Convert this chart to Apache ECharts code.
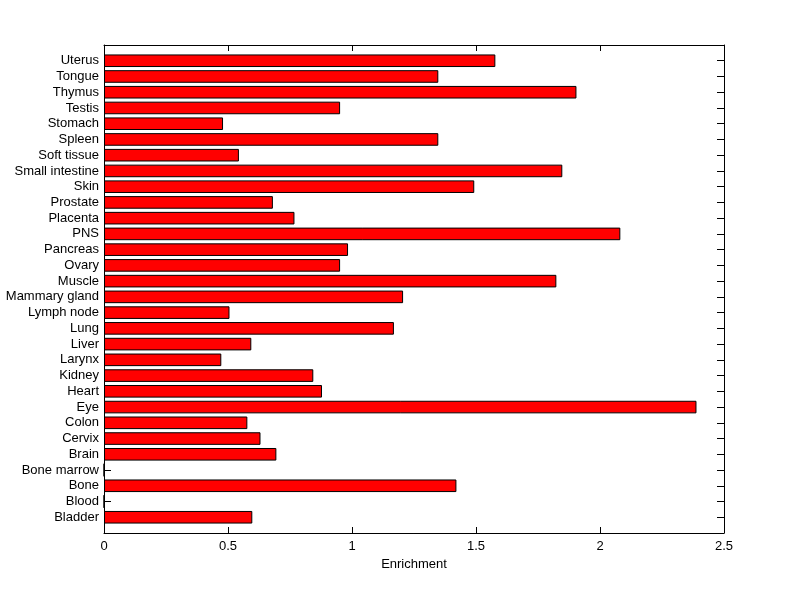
<!DOCTYPE html>
<html>
<head>
<meta charset="utf-8">
<script src="https://cdn.jsdelivr.net/npm/echarts@6/dist/echarts.min.js"></script>
<style>
html,body{margin:0;padding:0;background:#fff;}
#chart{width:800px;height:599px;}
</style>
</head>
<body>
<div id="chart"></div>
<script>
// Categories listed bottom-to-top (as drawn on the y axis)
var categories = ['Bladder','Blood','Bone','Bone marrow','Brain','Cervix','Colon','Eye','Heart','Kidney',
  'Larynx','Liver','Lung','Lymph node','Mammary gland','Muscle','Ovary','Pancreas','PNS','Placenta',
  'Prostate','Skin','Small intestine','Soft tissue','Spleen','Stomach','Testis','Thymus','Tongue','Uterus'];
var enrichment = [0.598,0,1.421,0,0.695,0.631,0.578,2.389,0.879,0.844,
  0.473,0.594,1.169,0.506,1.206,1.824,0.952,0.984,2.082,0.768,
  0.681,1.493,1.848,0.544,1.348,0.480,0.952,1.905,1.348,1.578];
var xTicks = [0,0.5,1,1.5,2,2.5];

// pad with empty slots so the axis spans 0..N+1 like the original
var axisCats = [''].concat(categories).concat(['']);
var axisVals = ['-'].concat(enrichment).concat(['-']);

var font = 'Liberation Sans, Arial, Helvetica, sans-serif';
var line = {show: true, onZero: false, lineStyle: {color: '#000', width: 1}};
var tickX = {show: true, inside: true, length: 6, lineStyle: {color: '#000'}};
var tickY = {show: true, inside: true, length: 7, interval: 0, lineStyle: {color: '#000'}};
var chart = echarts.init(document.getElementById('chart'));
chart.setOption({
  backgroundColor: '#ffffff',
  animation: false,
  grid: {left: 104, right: 76, top: 45, bottom: 66},
  xAxis: [{
    type: 'value', position: 'bottom', min: xTicks[0], max: xTicks[xTicks.length-1], interval: 0.5,
    name: 'Enrichment', nameLocation: 'middle', nameGap: 22,
    nameTextStyle: {color: '#000', fontSize: 13, fontFamily: font},
    axisLine: line,
    axisTick: tickX,
    axisLabel: {color: '#000', fontSize: 13, fontFamily: font, margin: 7},
    splitLine: {show: false}
  },{
    type: 'value', position: 'top', min: xTicks[0], max: xTicks[xTicks.length-1], interval: 0.5,
    axisLine: line,
    axisTick: tickX,
    axisLabel: {show: false},
    splitLine: {show: false}
  }],
  yAxis: [{
    type: 'category', position: 'left', data: axisCats, boundaryGap: false,
    axisLine: line,
    axisTick: tickY,
    axisLabel: {color: '#000', fontSize: 13, fontFamily: font, margin: 5, interval: 0},
    splitLine: {show: false}
  },{
    type: 'category', position: 'right', data: axisCats, boundaryGap: false,
    axisLine: line,
    axisTick: tickY,
    axisLabel: {show: false},
    splitLine: {show: false}
  }],
  series: [{
    type: 'bar', xAxisIndex: 0, yAxisIndex: 0, data: axisVals, barWidth: '80%',
    itemStyle: {color: '#ff0000', borderColor: '#000', borderWidth: 1},
    silent: true
  }]
});
</script>
</body>
</html>
